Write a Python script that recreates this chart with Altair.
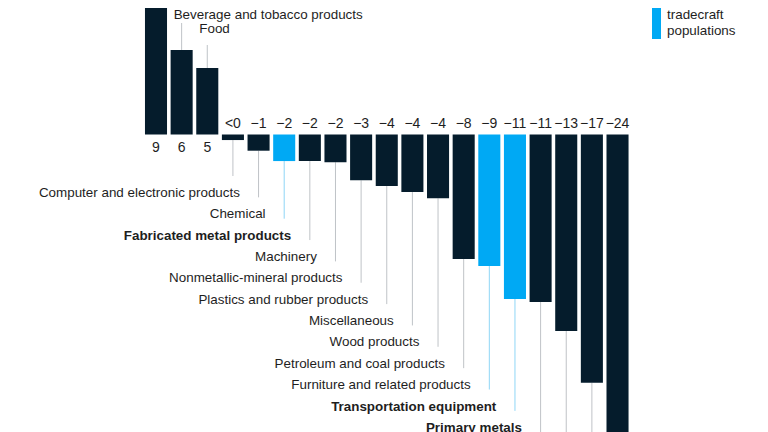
import altair as alt
import pandas as pd

# ---------------- data ----------------
value_labels = ["9", "6", "5", "<0", "\u22121", "\u22122", "\u22122", "\u22122", "\u22123",
                "\u22124", "\u22124", "\u22124", "\u22128", "\u22129", "\u221211", "\u221211",
                "\u221213", "\u221217", "\u221224"]
values = [8.87, 5.79, 4.55, -0.38, -1.11, -1.82, -1.82, -1.9, -3.14,
          -3.53, -3.94, -4.37, -8.53, -9.0, -11.27, -11.47, -13.46, -17.0, -24.0]
highlight = [False, False, False, False, False, True, False, False, False,
             False, False, False, False, True, True, False, False, False, False]
categories = ["", "Beverage and tobacco products", "Food",
              "Computer and electronic products", "Chemical", "Fabricated metal products",
              "Machinery", "Nonmetallic-mineral products", "Plastics and rubber products",
              "Miscellaneous", "Wood products", "Petroleum and coal products",
              "Furniture and related products", "Transportation equipment", "Primary metals",
              "", "", "", ""]
legend_lines = ["tradecraft", "populations"]

# ---------------- layout ----------------
W, H = 752, 424
PX = 14.6      # pixels per unit
Z = 126.5      # zero line (px from top of view)
STEP = 25.64   # band step in px
C0 = 148       # centre of first bar in px
HALF = 0.43    # half bar width in band units

ymax = Z / PX
ymin = -(H - Z) / PX
xd0 = -C0 / STEP
xd1 = xd0 + W / STEP


def yv(px):
    return (Z - px) / PX


NAVY = "#051C2C"
BLUE = "#00A9F4"
GRAY_LINE = "#BFC3C7"
BLUE_LINE = "#8FD6F6"
TEXT = "#1E1E1E"
FONT = "Liberation Sans"

rows = []
for i, (v, lab, hl, cat) in enumerate(zip(values, value_labels, highlight, categories)):
    if v >= 0:
        k = i
        line_end_px = 22 * k - 7
        lab_base_px = max(line_end_px - 12, 11)
        val_base_px = Z + 17.5
    else:
        k = i - 3
        lab_base_px = 189 + 21.35 * k
        line_end_px = lab_base_px - 21
        val_base_px = Z - 6.5
    rows.append(dict(
        i=i, x0=i - HALF, x1=i + HALF, value=v, zero=0.0,
        fill=BLUE if hl else NAVY,
        lcol=BLUE_LINE if hl else GRAY_LINE,
        line_end=yv(line_end_px),
        lab_y=yv(lab_base_px),
        val_y=yv(val_base_px),
        vlabel=lab, cat=cat, bold=hl, pos=v >= 0,
    ))
df = pd.DataFrame(rows)

xs = alt.Scale(domain=[xd0, xd1], nice=False, zero=False)
ys = alt.Scale(domain=[ymin, ymax], nice=False, zero=False)

base = alt.Chart(df)

lines = base.mark_rule(strokeWidth=1, clip=True).encode(
    x=alt.X("i:Q", scale=xs, axis=None),
    y=alt.Y("value:Q", scale=ys, axis=None),
    y2="line_end:Q",
    color=alt.Color("lcol:N", scale=None),
)

bars = base.mark_bar(clip=True).encode(
    x=alt.X("x0:Q", scale=xs, axis=None),
    x2="x1:Q",
    y=alt.Y("zero:Q", scale=ys, axis=None),
    y2="value:Q",
    color=alt.Color("fill:N", scale=None),
)

vals = base.mark_text(font=FONT, fontSize=14, color=TEXT, baseline="alphabetic",
                      align="center").encode(
    x=alt.X("i:Q", scale=xs, axis=None),
    y=alt.Y("val_y:Q", scale=ys, axis=None),
    text="vlabel:N",
)

top_labels = base.transform_filter("datum.pos && datum.cat != ''").mark_text(
    font=FONT, fontSize=13.4, color=TEXT, baseline="alphabetic", align="left", dx=-8
).encode(
    x=alt.X("i:Q", scale=xs, axis=None),
    y=alt.Y("lab_y:Q", scale=ys, axis=None),
    text="cat:N",
)

bottom_normal = base.transform_filter("!datum.pos && !datum.bold && datum.cat != ''").mark_text(
    font=FONT, fontSize=13.4, color=TEXT, baseline="alphabetic", align="right", dx=7
).encode(
    x=alt.X("i:Q", scale=xs, axis=None),
    y=alt.Y("lab_y:Q", scale=ys, axis=None),
    text="cat:N",
)

bottom_bold = base.transform_filter("!datum.pos && datum.bold && datum.cat != ''").mark_text(
    font=FONT, fontSize=13.4, fontWeight="bold", color=TEXT, baseline="alphabetic",
    align="right", dx=7
).encode(
    x=alt.X("i:Q", scale=xs, axis=None),
    y=alt.Y("lab_y:Q", scale=ys, axis=None),
    text="cat:N",
)

leg_df = pd.DataFrame({"t": legend_lines, "k": list(range(len(legend_lines)))})
leg_swatch = alt.Chart(pd.DataFrame({"a": [1]})).mark_rect(color=BLUE).encode(
    x=alt.value(644), x2=alt.value(653), y=alt.value(0), y2=alt.value(31)
)
leg_text = alt.Chart(leg_df).transform_calculate(
    py="11 + 16 * datum.k"
).mark_text(font=FONT, fontSize=13.4, color=TEXT, baseline="alphabetic", align="left").encode(
    x=alt.value(659),
    y=alt.Y("py:Q", scale=None, axis=None),
    text="t:N",
)

chart = alt.layer(
    lines, bars, vals, top_labels, bottom_normal, bottom_bold, leg_swatch, leg_text
).resolve_scale(y="independent").properties(
    width=W, height=H, autosize="none", padding=0
).configure_view(stroke=None)

chart.save("out.html", embed_options={"renderer": "svg", "actions": False})
